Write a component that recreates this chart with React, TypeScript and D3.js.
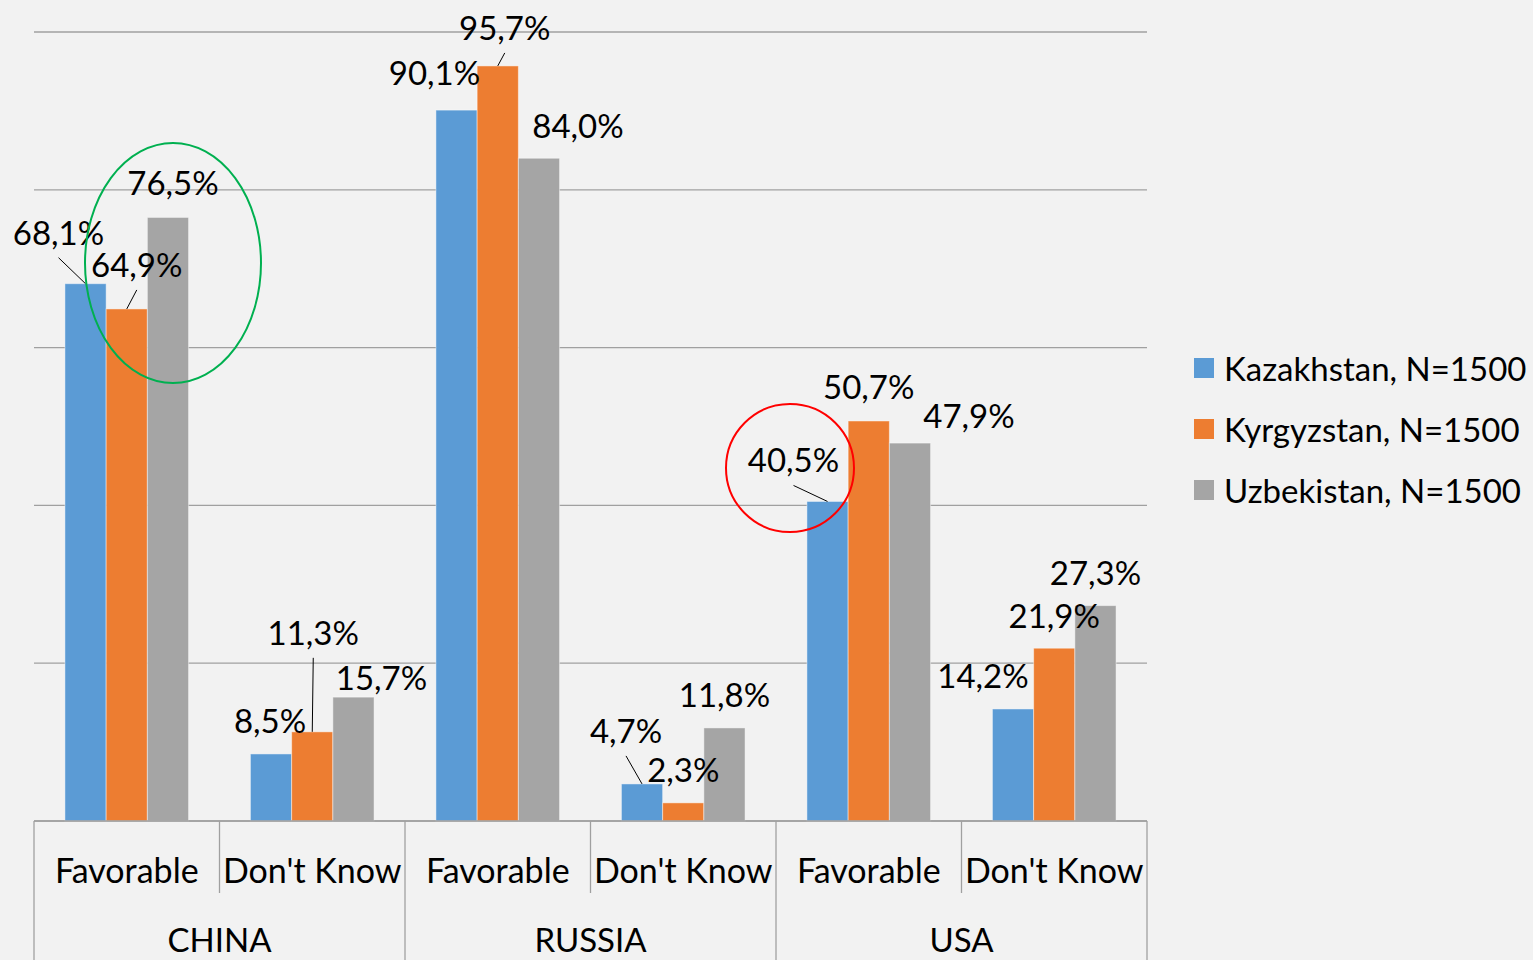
import React from "react";
import * as d3 from "d3";

const groups = ["CHINA", "RUSSIA", "USA"];
const subCategories = ["Favorable", "Don't Know"];
const seriesNames = ["Kazakhstan, N=1500", "Kyrgyzstan, N=1500", "Uzbekistan, N=1500"];
const seriesColors = ["#5b9bd5", "#ed7d31", "#a5a5a5"];

const kazakhstan = [68.1, 8.5, 90.1, 4.7, 40.5, 14.2];
const kyrgyzstan = [64.9, 11.3, 95.7, 2.3, 50.7, 21.9];
const uzbekistan = [76.5, 15.7, 84.0, 11.8, 47.9, 27.3];
const seriesValues = [kazakhstan, kyrgyzstan, uzbekistan];

const yTicks = [0, 20, 40, 60, 80, 100];

// label offsets (dx, dy) from the bar top-center, per series per category
const labelOffsets = [
  [[-27, -52], [-1, -34], [-22, -38], [-16, -54], [-34, -42], [-30, -34]],
  [[10, -45], [1, -100], [7, -39], [0, -34], [0, -35], [0, -33]],
  [[5, -35], [28, -20], [39, -33], [0, -34], [59, -28], [0, -34]],
];
// which labels have leader lines: [series, category]
const leaders = [[0, 0], [1, 0], [1, 1], [1, 2], [0, 3], [0, 4]];

const W = 1533;
const H = 960;
const FONT = "Lato, 'Open Sans', sans-serif";

export default function App() {
  const left = 34, right = 1147, baseY = 821, topY = 32;
  const cats = groups.flatMap((g) => subCategories.map((s) => `${g}|${s}`));
  const x0 = d3.scaleBand<string>().domain(cats).range([left, right]).paddingInner(0).paddingOuter(0);
  const bw = x0.bandwidth();
  // Excel gap width 150%: outer padding each side = 0.75 bar width
  const barW = bw / 4.5;
  const barX = (ci: number, si: number) => (x0(cats[ci]) as number) + 0.75 * barW + si * barW;
  const y = d3.scaleLinear().domain([0, 100]).range([baseY, topY]);
  const groupScale = d3.scaleBand<string>().domain(groups).range([left, right]);

  const fmt = (v: number) => v.toFixed(1).replace(".", ",") + "%";

  return (
    <svg width={W} height={H} style={{ position: "absolute", left: 0, top: 0, background: "#f2f2f2" }} fontFamily={FONT}>
      <rect x={0} y={0} width={W} height={H} fill="#f2f2f2" />
      {yTicks.map((t) => (
        <line key={t} x1={left} x2={right} y1={y(t)} y2={y(t)} stroke="#a0a0a0" strokeWidth={1.3} />
      ))}
      {seriesValues.map((vals, si) =>
        vals.map((v, ci) => (
          <rect
            key={`${si}-${ci}`}
            x={barX(ci, si)}
            y={y(v)}
            width={barW}
            height={baseY - y(v)}
            fill={seriesColors[si]}
            stroke="#ffffff"
            strokeOpacity={0.45}
            strokeWidth={1}
          />
        ))
      )}
      {/* axis */}
      <line x1={left} x2={right} y1={baseY} y2={baseY} stroke="#a0a0a0" strokeWidth={1.3} />
      {cats.map((c, ci) => {
        const xs = x0(c) as number;
        return ci % 2 === 1 ? (
          <line key={c} x1={xs} x2={xs} y1={baseY} y2={893} stroke="#a0a0a0" strokeWidth={1.3} />
        ) : null;
      })}
      {groups.map((g) => (
        <line key={g} x1={groupScale(g)} x2={groupScale(g)} y1={baseY} y2={H} stroke="#a0a0a0" strokeWidth={1.3} />
      ))}
      <line x1={right} x2={right} y1={baseY} y2={H} stroke="#a0a0a0" strokeWidth={1.3} />
      {cats.map((c) => (
        <text key={c} x={(x0(c) as number) + bw / 2} y={869} textAnchor="middle" dominantBaseline="central" fontSize={34} fill="#000">
          {c.split("|")[1]}
        </text>
      ))}
      {groups.map((g) => (
        <text key={g} x={(groupScale(g) as number) + groupScale.bandwidth() / 2} y={939} textAnchor="middle" dominantBaseline="central" fontSize={33} fill="#000">
          {g}
        </text>
      ))}
      {/* leaders */}
      {leaders.map(([si, ci]) => {
        const v = seriesValues[si][ci];
        const cx = barX(ci, si) + barW / 2;
        const [dx, dy] = labelOffsets[si][ci];
        const lx = cx + dx;
        const ly = y(v) + dy;
        return <line key={`l${si}-${ci}`} x1={lx} y1={ly + 26} x2={cx} y2={y(v)} stroke="#000" strokeWidth={1} />;
      })}
      {seriesValues.map((vals, si) =>
        vals.map((v, ci) => {
          const cx = barX(ci, si) + barW / 2;
          const [dx, dy] = labelOffsets[si][ci];
          return (
            <text key={`t${si}-${ci}`} x={cx + dx} y={y(v) + dy} textAnchor="middle" dominantBaseline="central" fontSize={33} fill="#000">
              {fmt(v)}
            </text>
          );
        })
      )}
      {/* annotations */}
      <ellipse cx={173} cy={263} rx={88} ry={120} fill="none" stroke="#00b050" strokeWidth={2} />
      <circle cx={790} cy={468} r={64} fill="none" stroke="#ff0000" strokeWidth={2} />
      {/* legend */}
      {seriesNames.map((n, i) => (
        <g key={n} transform={`translate(1194, ${368 + i * 61})`}>
          <rect x={0} y={-10} width={20} height={20} fill={seriesColors[i]} />
          <text x={30} y={0} dominantBaseline="central" fontSize={33} fill="#000">
            {n}
          </text>
        </g>
      ))}
    </svg>
  );
}
